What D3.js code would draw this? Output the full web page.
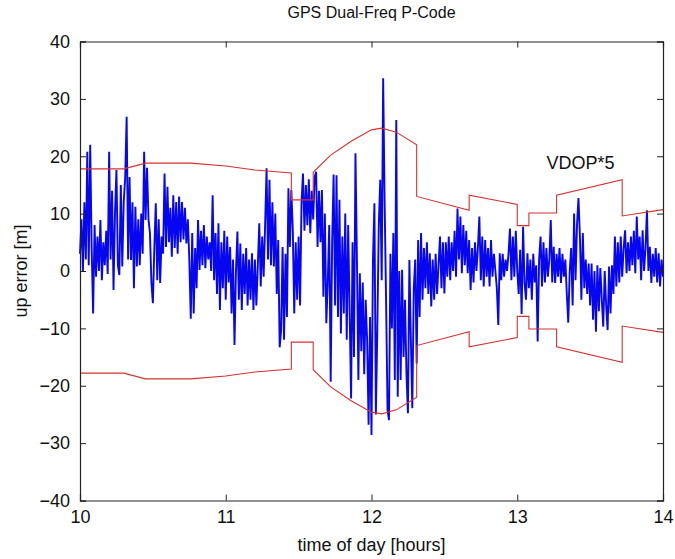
<!DOCTYPE html>
<html>
<head>
<meta charset="utf-8">
<script src="https://cdn.jsdelivr.net/npm/d3@7"></script>
<style>
  body { margin: 0; background: #fff; }
  text { font-family: "Liberation Sans", Arial, sans-serif; fill: #111; }
</style>
</head>
<body>
<div id="chart"></div>
<script>
// –––––––––––––––––– DATA ––––––––––––––––––
// up error [m], one value every 0.01 h from 10.00 to 14.00
var tStart = 10, tStep = 0.01;
var upError = [
  3, 9, 0, 12, 2, 20.8, 1, 22, 4, -7.4,
  8, -1, 6, 0, 8.9, -1.6, 5, 1, 7, -0.5,
  20.8, 2, 14, -3.3, 10, 17.6, 1, -0.7, 15, 0.8,
  12, 16.2, 26.9, 2, 16.4, 1.9, 12, -3, 11.2, 0.8,
  9, 1, 10, 3, 20.8, 8.9, 18, 9, 6.6, -2.1,
  -5.6, 4, 11.8, -1.6, 9, -2.1, 6, 3, 17, 4.2,
  14.7, 5, 11, 2.5, 13.2, 4, 12, 3, 13, 5,
  12, 5.5, 11, 4.8, 9, 2, -8.3, 6.6, -7.4, 4,
  -3, 8.9, 0.2, 7, 1, 8, 0.5, 6, 2, 5,
  0, 13.2, -1.6, 6.6, -4, 8.3, -6.8, 5, -3, 7,
  -5, 6, -2, 4.2, -7.4, 2, -12.9, 0, 6.9, -5,
  4.8, -6.8, 3, -4, 4, -6, 2, -5, 3.1, -6.8,
  2, -6, 1, 8.3, -2.7, 6, -1, 8, 17.9, 2,
  15.9, 1, 12, 0.8, 10, -4, 5.4, -13.3, -10.3, 4.2,
  -12, 3, -8, 14.4, 4.2, 14.1, 7.1, -7.4, 5, -5,
  6, -6, 12, 17, 7, 15, 8, 16, 6.6, 14,
  9, 16.4, 17.3, 4.2, 14, 5, 14.1, -4.5, 10, -9.1,
  -2, 8, -19.3, 5, 16.8, -6, 16.7, -8, 12.4, -10.9,
  6, -7.4, 10, -12, 8, -7, -22.2, 5, -15, 20.5,
  2, -19, -0.4, -14, -2, -18, -5, -12, -26.8, -8,
  -28.6, 1.9, 11.8, -25, -10, 8, 15.9, -1.6, 33.6, 12,
  -5, -24.2, -26, 3, -10, 6.6, -19, 26.3, -21.9, 0,
  -19, 0.2, -15, -5, -18, -24.8, 1.9, -12, -23.9, -3,
  2, -16.1, 5.4, -8, 6.6, -5, 4, -3, 5, -4,
  3.1, -6.2, 2, -5, 3, -4, 1, 6, -3, 5,
  -3.9, 5, -1, 6, -1.6, 5, 0, 7, -1, 10.9,
  2, 9.5, -0.4, 8, 1, 7, -0.4, 5.4, -3.3, 4,
  -2, 5, 0, 4, 9.5, -1.6, 6, -2.7, 5.4, -1,
  4, -2.7, 5.4, -1, 3, 0, -3, -9.4, 3.1, -1.6,
  3, -1, 2, 0, 3, 7.4, -1.6, 6, -1, 7,
  0, -4, 3.7, -7.5, 7.7, -2, -5, 3.1, -3, 2,
  -5, 3, -2, 1, -12.3, 2, 6, -2.7, 5, -2,
  4, -1, 2, 8.9, -2, 4.2, -2.1, 3, -1, 4,
  -2.1, 3, -1, 2, -4, -9, 0, 4, -6, 10,
  -1.6, 8, 12.7, 6, -5, 6.6, -3, 2, -4, 1.3,
  -6, 1.3, -8.5, 0, -10.6, 1, -7, 0.5, -5, -9.7,
  0, -6, -10.3, 0.8, -7.4, 1, -4, 6, -2.7, 5,
  -2, 6, -1, 4, 7.1, -0.4, 5, 0, 6, 1,
  7, -0.4, 9.5, 2, 6, -1.6, 7.1, 0, 4, 10.6,
  0, 4.2, -2.1, 3, -1, 4, -2, 3.1, -2.7, 2, -1
];

// VDOP*5 envelope (drawn as +/-)
var envHours = [10.00, 10.30, 10.45, 10.76, 11.00, 11.20, 11.45, 11.45, 11.60, 11.60, 11.72, 11.86, 12.00, 12.07, 12.17, 12.31,
                12.31, 12.67, 12.67, 13.00, 13.00, 13.08, 13.08, 13.27, 13.27, 13.72, 13.72, 14.00];
var envVdop5 = [17.8, 17.8, 18.8, 18.8, 18.3, 17.6, 17.1, 12.4, 12.4, 17.2, 20.2, 22.6, 24.6, 24.9, 24.2, 22.0,
                13.0, 10.6, 13.2, 11.6, 7.9, 7.9, 10.1, 10.1, 13.2, 15.9, 9.6, 10.7];

var xTicks = [10, 11, 12, 13, 14];
var yTicks = [-40, -30, -20, -10, 0, 10, 20, 30, 40];

// –––––––––––––––––– SVG CANVAS SETUP ––––––––––––––––––
var svgWidth = 675;
var svgHeight = 559;
var margin = { top: 41.5, right: 12, bottom: 58.5, left: 80 };
var width = svgWidth - margin.left - margin.right;
var height = svgHeight - margin.top - margin.bottom;

var svg = d3.select("#chart")
	.append("svg")
	.attr("width", svgWidth)
	.attr("height", svgHeight);
var chartGroup = svg.append("g")
	.attr("transform", `translate(${margin.left}, ${margin.top})`);

// scales
var xScale = d3.scaleLinear().domain([10, 14]).range([0, width]);
var yScale = d3.scaleLinear().domain([-40, 40]).range([height, 0]);

// blue series
var series = upError.map((v, i) => ({ t: tStart + i * tStep, v: v }));
var line = d3.line().x(d => xScale(d.t)).y(d => yScale(d.v));

chartGroup.append("path")
	.datum(series)
	.attr("d", line)
	.attr("fill", "none")
	.attr("stroke", "#0606f0")
	.attr("stroke-width", 1.9)
	.attr("stroke-linejoin", "bevel");

// red envelope, upper and lower
var env = envHours.map((h, i) => ({ t: h, v: envVdop5[i] }));
chartGroup.append("path")
	.datum(env)
	.attr("d", line)
	.attr("fill", "none")
	.attr("stroke", "#d83030")
	.attr("stroke-width", 1.1);
chartGroup.append("path")
	.datum(env.map(d => ({ t: d.t, v: -d.v })))
	.attr("d", line)
	.attr("fill", "none")
	.attr("stroke", "#d83030")
	.attr("stroke-width", 1.1);

// axes (matlab style: inward ticks, full box)
var tickLen = 6;
chartGroup.append("g")
	.attr("transform", `translate(0, ${height})`)
	.call(d3.axisBottom(xScale).tickValues(xTicks).tickSize(-tickLen).tickPadding(10).tickFormat(d3.format("d")));
chartGroup.append("g")
	.call(d3.axisTop(xScale).tickValues(xTicks).tickSize(-tickLen).tickFormat(""));
chartGroup.append("g")
	.call(d3.axisLeft(yScale).tickValues(yTicks).tickSize(-tickLen).tickPadding(10).tickFormat(d3.format("d")));
chartGroup.append("g")
	.attr("transform", `translate(${width}, 0)`)
	.call(d3.axisRight(yScale).tickValues(yTicks).tickSize(-tickLen).tickFormat(""));

chartGroup.selectAll(".domain").attr("stroke", "#222").attr("stroke-width", 1.2);
chartGroup.selectAll(".tick line").attr("stroke", "#222");
chartGroup.selectAll(".tick text").style("font-size", "18px").attr("fill", "#111");

// labels
svg.append("text")
	.attr("x", margin.left + width / 2)
	.attr("y", 18)
	.attr("text-anchor", "middle")
	.style("font-size", "16px")
	.text("GPS Dual-Freq P-Code");
svg.append("text")
	.attr("x", margin.left + width / 2)
	.attr("y", 551)
	.attr("text-anchor", "middle")
	.style("font-size", "18px")
	.text("time of day [hours]");
svg.append("text")
	.attr("transform", `translate(27, ${margin.top + height / 2}) rotate(-90)`)
	.attr("text-anchor", "middle")
	.style("font-size", "18px")
	.text("up error [m]");
chartGroup.append("text")
	.attr("x", xScale(13.2))
	.attr("y", yScale(17.7))
	.style("font-size", "18px")
	.text("VDOP*5");
</script>
</body>
</html>
